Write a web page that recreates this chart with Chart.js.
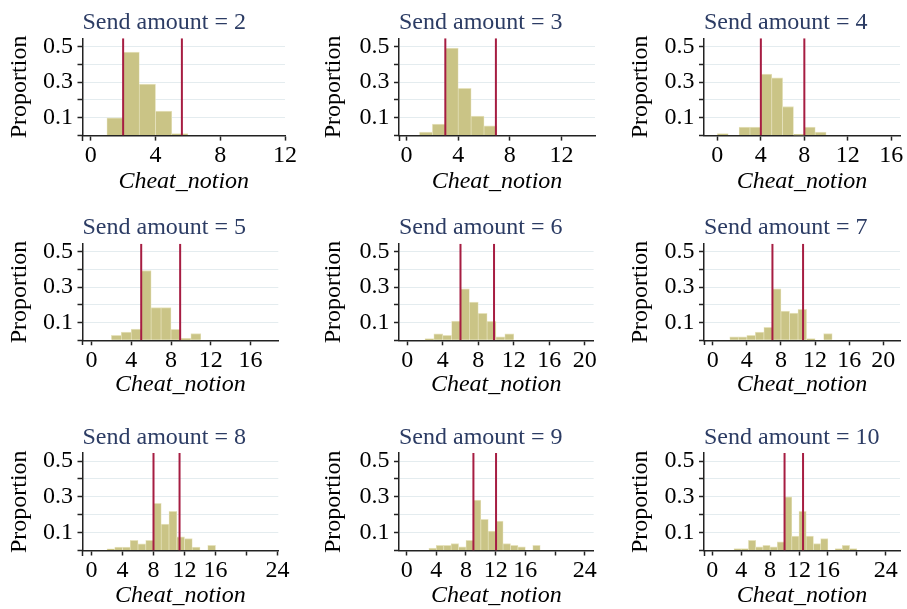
<!DOCTYPE html>
<html>
<head>
<meta charset="utf-8">
<title>Cheat_notion by send amount</title>
<script src="https://cdn.jsdelivr.net/npm/chart.js@4.4.1/dist/chart.umd.min.js"></script>
<style>
  html, body { margin: 0; padding: 0; background: #fff; overflow: hidden; }
  #page { position: relative; width: 907px; height: 609px; overflow: hidden; background: #fff; }
  #page canvas { position: absolute; }
</style>
</head>
<body>
<div id="page"></div>
<script>
// one panel per send amount
const sendAmounts = [2, 3, 4, 5, 6, 7, 8, 9, 10];

// proportion per bin, index = bin start (bin k covers k..k+1)
const propSend2 = [0, 0.100, 0.468, 0.288, 0.137, 0.011];
const propSend3 = [0, 0.020, 0.065, 0.490, 0.265, 0.109, 0.055];
const propSend4 = [0.011, 0, 0.048, 0.048, 0.344, 0.323, 0.163, 0.009, 0.048, 0.020];
const propSend5 = [0, 0, 0.028, 0.047, 0.064, 0.394, 0.184, 0.184, 0.062, 0.011, 0.038];
const propSend6 = [0, 0, 0.009, 0.036, 0.028, 0.109, 0.291, 0.216, 0.152, 0.107, 0.019, 0.036];
const propSend7 = [0, 0, 0.019, 0.019, 0.028, 0.047, 0.073, 0.291, 0.165, 0.154, 0.175, 0.009, 0, 0.038];
const propSend8 = [0, 0, 0.009, 0.019, 0.019, 0.057, 0.037, 0.057, 0.264, 0.147, 0.219, 0.076, 0.066, 0.019, 0, 0.029];
const propSend9 = [0, 0, 0, 0.013, 0.029, 0.029, 0.038, 0.020, 0.057, 0.282, 0.174, 0.109, 0.165, 0.038, 0.029, 0.020, 0, 0.029];
const propSend10 = [0, 0, 0, 0.011, 0.011, 0.057, 0.020, 0.029, 0.020, 0.048, 0.300, 0.081, 0.219, 0.081, 0.038, 0.066, 0, 0.011, 0.029, 0.011];
const proportions = [propSend2, propSend3, propSend4, propSend5, propSend6, propSend7, propSend8, propSend9, propSend10];

// the two red reference lines in each panel
const lowerLine = [2, 3, 4, 5, 6, 7, 8, 9, 10];
const upperLine = [5.63, 6.92, 8.0, 8.92, 9.78, 10.59, 11.36, 12.05, 12.56];

// tick labels
const yTickLabels = [0.1, 0.3, 0.5];
const yTickMarks = [0, 0.1, 0.2, 0.3, 0.4, 0.5];
const xTickLabels = [
    [0, 4, 8, 12], [0, 4, 8, 12], [0, 4, 8, 12, 16],
    [0, 4, 8, 12, 16], [0, 4, 8, 12, 16, 20], [0, 4, 8, 12, 16, 20],
    [0, 4, 8, 12, 16, 24], [0, 4, 8, 12, 16, 24], [0, 4, 8, 12, 16, 24]
];
const xTickMarks = [[], [], [], [], [], [], [20], [20], [20]];
const xEndTicks = [[11.5], [14], [], [18], [], [21], [23], [], [25]];

// axis ranges
const xMin = [-0.51, -0.59, -1.23, -0.91, -0.93, -1.02, -1.16, -1.03, -1.15];
const xMax = [12, 14.6, 16.8, 18.8, 21.0, 21.95, 24.1, 25.2, 25.98];
const yMax = 0.545;

// layout of the 3x3 grid
const colLeft = [0, 300, 600];
const colWidth = [300, 300, 307];
const rowTop = [0, 200, 400];
const rowHeight = [200, 200, 215];
const yAxisWidth = [82.5, 99, 104];
const yTitlePad = [5.6, 19.6, 26];
const rightPad = [13.3, 5, 7, 21.7, 5, 7, 21.7, 5, 7];
const titlePadTop = [8.1, 13.1, 23.1];
const titlePadBottom = [1.4, 1.8, 1.1];
const xAxisHeight = [64.4, 59.7, 64.5];
const xTitlePadBottom = [4.3, 1.4, 4.8];

const barColor = '#cac486';
const barEdge = '#e6e2bd';
const lineColor = '#a61d42';
const gridColor = '#e4ecef';
const axisColor = '#222222';
const titleColor = '#2c3c64';

Chart.defaults.font.family = '"Liberation Serif", "Times New Roman", serif';
Chart.defaults.color = '#000';

function refLine(v) {
    return {
        type: 'line',
        data: [{ x: v, y: 0 }, { x: v, y: yMax }],
        borderColor: lineColor,
        borderWidth: 2,
        pointRadius: 0,
        xAxisID: 'x',
        yAxisID: 'y',
        order: 0
    };
}

function makePanel(i) {
    const row = Math.floor(i / 3);
    const col = i % 3;

    const canvas = document.createElement('canvas');
    canvas.width = colWidth[col];
    canvas.height = rowHeight[row];
    canvas.style.left = colLeft[col] + 'px';
    canvas.style.top = rowTop[row] + 'px';
    document.getElementById('page').appendChild(canvas);

    const bars = proportions[i]
        .map((p, k) => ({ x: k + 0.5, y: p }))
        .filter(d => d.y > 0);

    const labelled = xTickLabels[i];
    const mainTicks = labelled.concat(xTickMarks[i]).sort((a, b) => a - b);

    new Chart(canvas, {
        type: 'bar',
        data: {
            datasets: [
                refLine(lowerLine[i]),
                refLine(upperLine[i]),
                {
                    type: 'bar',
                    data: bars,
                    backgroundColor: barColor,
                    borderColor: barEdge,
                    borderWidth: { top: 1, left: 0.7, right: 0.7, bottom: 0 },
                    borderSkipped: 'start',
                    barPercentage: 1,
                    categoryPercentage: 1,
                    grouped: false,
                    xAxisID: 'x',
                    yAxisID: 'y',
                    order: 1
                }
            ]
        },
        options: {
            responsive: false,
            animation: false,
            devicePixelRatio: 1,
            events: [],
            layout: {
                padding: { left: 0, top: 0, bottom: 0, right: rightPad[i] }
            },
            plugins: {
                legend: { display: false },
                tooltip: { enabled: false },
                title: {
                    display: true,
                    fullSize: false,
                    align: 'start',
                    text: 'Send amount = ' + sendAmounts[i],
                    color: titleColor,
                    font: { size: 24, weight: 'normal' },
                    padding: { top: titlePadTop[row], bottom: titlePadBottom[row] }
                }
            },
            scales: {
                x: {
                    type: 'linear',
                    position: 'bottom',
                    min: xMin[i],
                    max: xMax[i],
                    offset: false,
                    afterBuildTicks: (scale) => {
                        scale.ticks = mainTicks.map(v => ({ value: v }));
                    },
                    afterFit: (scale) => {
                        scale.height = xAxisHeight[row];
                    },
                    ticks: {
                        autoSkip: false,
                        maxRotation: 0,
                        padding: 3,
                        color: '#000',
                        font: { size: 24, lineHeight: 1 },
                        callback: (v) => labelled.includes(v) ? String(v) : ''
                    },
                    grid: {
                        offset: false,
                        drawOnChartArea: false,
                        drawTicks: true,
                        tickLength: 5,
                        tickColor: axisColor,
                        tickWidth: 1.5
                    },
                    border: { display: true, color: axisColor, width: 1.5 },
                    title: {
                        display: true,
                        text: 'Cheat_notion',
                        color: '#000',
                        font: { size: 24, style: 'italic' },
                        padding: { top: 0, bottom: xTitlePadBottom[row] }
                    }
                },
                xEnd: {
                    type: 'linear',
                    axis: 'x',
                    position: { y: 0 },
                    display: xEndTicks[i].length > 0,
                    min: xMin[i],
                    max: xMax[i],
                    offset: false,
                    afterBuildTicks: (scale) => {
                        scale.ticks = xEndTicks[i].map(v => ({ value: v }));
                    },
                    ticks: { display: false },
                    grid: {
                        drawOnChartArea: false,
                        drawTicks: true,
                        tickLength: 5,
                        tickColor: axisColor,
                        tickWidth: 1.5
                    },
                    border: { display: false }
                },
                y: {
                    type: 'linear',
                    position: 'left',
                    min: 0,
                    max: yMax,
                    afterBuildTicks: (scale) => {
                        scale.ticks = yTickMarks.map(v => ({ value: v }));
                    },
                    afterFit: (scale) => {
                        scale.width = yAxisWidth[col];
                    },
                    ticks: {
                        autoSkip: false,
                        padding: 4.5,
                        color: '#000',
                        font: { size: 24 },
                        callback: (v) => yTickLabels.includes(v) ? v.toFixed(1) : ''
                    },
                    grid: {
                        color: (ctx) => (ctx.tick && ctx.tick.value === 0) ? 'rgba(0,0,0,0)' : gridColor,
                        lineWidth: 1,
                        drawTicks: true,
                        tickLength: 5,
                        tickColor: axisColor,
                        tickWidth: 1.5
                    },
                    border: { display: true, color: axisColor, width: 1.5 },
                    title: {
                        display: true,
                        text: 'Proportion',
                        color: '#000',
                        font: { size: 24 },
                        padding: { top: yTitlePad[col], bottom: 0 }
                    }
                }
            }
        }
    });
}

document.addEventListener('DOMContentLoaded', () => {
    sendAmounts.forEach((s, i) => makePanel(i));
});
</script>
</body>
</html>
